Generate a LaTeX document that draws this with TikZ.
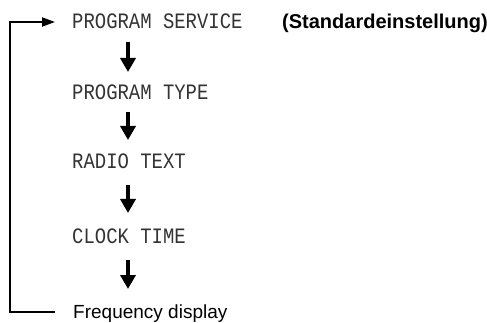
\documentclass[tikz,border=0pt]{standalone}
\usepackage{fontspec}
\setmainfont{Liberation Sans}
\newfontfamily\lcdfont[FakeStretch=0.86]{Liberation Mono}
\usetikzlibrary{arrows.meta,calc}
\begin{document}
\begin{tikzpicture}[x=1pt,y=-1pt,
  lcd/.style={anchor=west,inner sep=0pt,text height=13pt,text depth=0pt,
    font=\lcdfont\fontsize{22}{22}\selectfont,text=black!80},
  plain/.style={anchor=west,inner sep=0pt,text height=13pt,text depth=0pt,
    font=\fontsize{19}{19}\selectfont},
  downarr/.style={line width=4pt,-{Triangle[width=15pt,length=14pt]}},
  looparr/.style={line width=2pt,-{Triangle[width=9pt,length=13pt]}}]
\useasboundingbox (0,0) rectangle (487,323);
\node[lcd] (ps) at (72,22) {PROGRAM SERVICE};
\node[lcd] (pt) at (72,93) {PROGRAM TYPE};
\node[lcd] (rt) at (72,162) {RADIO TEXT};
\node[lcd] (ct) at (72,237) {CLOCK TIME};
\node[plain] (fd) at (73,312) {Frequency display};
\node[plain,font=\bfseries\fontsize{20}{20}\selectfont] (std) at (282,22) {(Standardeinstellung)};
\coordinate (c) at (10,0);
\draw[downarr] ($(ps.west)+(56,20)$) -- ($(pt.west)+(56,-21)$);
\draw[downarr] ($(pt.west)+(56,19)$) -- ($(rt.west)+(56,-22)$);
\draw[downarr] ($(rt.west)+(56,23)$) -- ($(ct.west)+(56,-24)$);
\draw[downarr] ($(ct.west)+(56,23)$) -- ($(fd.west)+(55,-23)$);
\draw[looparr] ([xshift=-18pt]fd.west) -- (fd.west -| c) |- ([xshift=-17pt]ps.west);
\end{tikzpicture}
\end{document}
